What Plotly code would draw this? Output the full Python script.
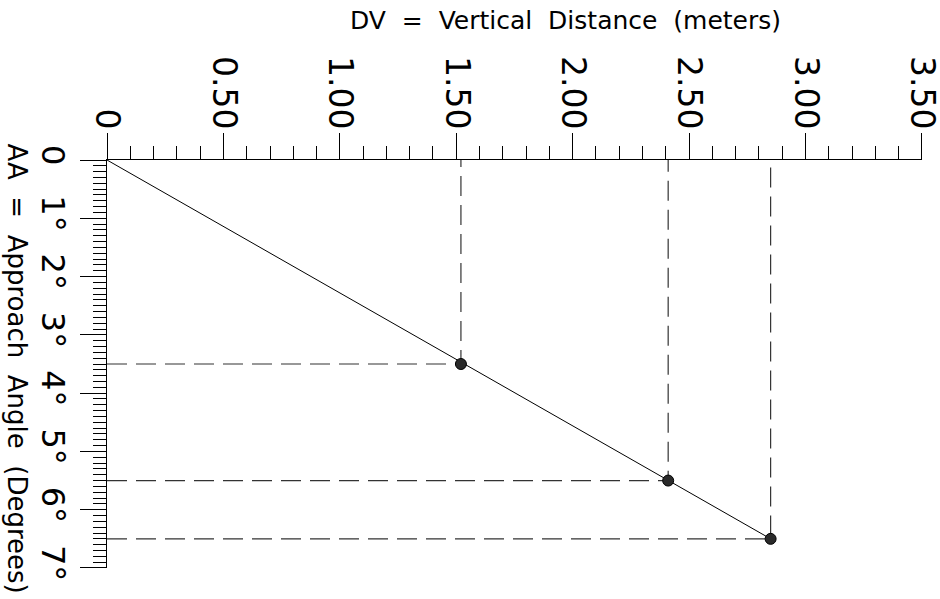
import plotly.graph_objects as go

# readings
dv = [1.52, 2.41, 2.85]      # vertical distance, meters
aa = [3.5, 5.5, 6.5]         # approach angle, degrees

x_tickvals = [0, 0.5, 1.0, 1.5, 2.0, 2.5, 3.0, 3.5]
x_ticktext = ["0", "0.50", "1.00", "1.50", "2.00", "2.50", "3.00", "3.50"]
y_tickvals = [0, 1, 2, 3, 4, 5, 6, 7]
y_ticktext = ["0", "1°", "2°", "3°", "4°", "5°", "6°", "7°"]

NB = "\u00a0"
font_name = "DejaVu Sans"

fig = go.Figure()

# dashed guide lines from each point back to the axes
for x, y in zip(dv, aa):
    fig.add_trace(go.Scatter(
        x=[0, x, x], y=[y, y, 0],
        mode="lines",
        line=dict(color="#333333", width=1.2, dash="20px,9px"),
        hoverinfo="skip", showlegend=False
    ))

# solid line from origin to the last point
fig.add_trace(go.Scatter(
    x=[0, dv[-1]], y=[0, aa[-1]],
    mode="lines",
    line=dict(color="black", width=1),
    showlegend=False
))

fig.add_trace(go.Scatter(
    x=dv, y=aa,
    mode="markers",
    marker=dict(size=11, color="#2a2a2a", line=dict(color="black", width=1)),
    showlegend=False
))

fig.update_layout(
    width=940, height=599,
    margin=dict(l=107, r=18, t=160, b=31),
    plot_bgcolor="white",
    paper_bgcolor="white",
    font=dict(family=font_name, color="black"),
    xaxis=dict(
        side="top", range=[0, 3.5001], autorange=False, automargin=False,
        showgrid=False, zeroline=False,
        showline=True, linecolor="black", linewidth=1,
        ticks="outside", ticklen=26, tickwidth=1, tickcolor="black",
        tickvals=x_tickvals, ticktext=x_ticktext,
        tickangle=90, tickfont=dict(size=33, family=font_name),
        ticklabelstandoff=-8, ticklabeloverflow="allow",
        minor=dict(dtick=0.1, ticks="outside", ticklen=13, tickcolor="black", tickwidth=1, showgrid=False),
    ),
    yaxis=dict(
        range=[7.0001, 0], autorange=False, automargin=False,
        showgrid=False, zeroline=False,
        showline=True, linecolor="black", linewidth=1,
        ticks="outside", ticklen=26, tickwidth=1, tickcolor="black",
        tickvals=y_tickvals, ticktext=y_ticktext,
        tickangle=90, tickfont=dict(size=32, family=font_name),
        ticklabelstandoff=0, ticklabeloverflow="allow",
        minor=dict(dtick=0.1, ticks="outside", ticklen=13, tickcolor="black", tickwidth=1, showgrid=False),
    ),
)

fig.add_annotation(
    text=f"DV{NB}{NB}={NB}{NB}Vertical{NB}{NB}Distance{NB}{NB}(meters)",
    xref="paper", yref="paper", x=0.562, y=1.343,
    xanchor="center", yanchor="middle", showarrow=False,
    font=dict(size=25, family=font_name, color="black")
)
fig.add_annotation(
    text=f"AA{NB}{NB}={NB}{NB}Approach{NB}{NB}Angle{NB}{NB}(Degrees)",
    xref="paper", yref="paper", x=-0.111, y=0.49,
    xanchor="center", yanchor="middle", showarrow=False, textangle=90,
    font=dict(size=26, family=font_name, color="black")
)

# drop the default page margin so the 940x599 figure fills the window
fig.write_html(
    "out.html",
    config={"displayModeBar": False},
    post_script="document.body.style.margin='0';document.body.style.overflow='hidden';",
)
